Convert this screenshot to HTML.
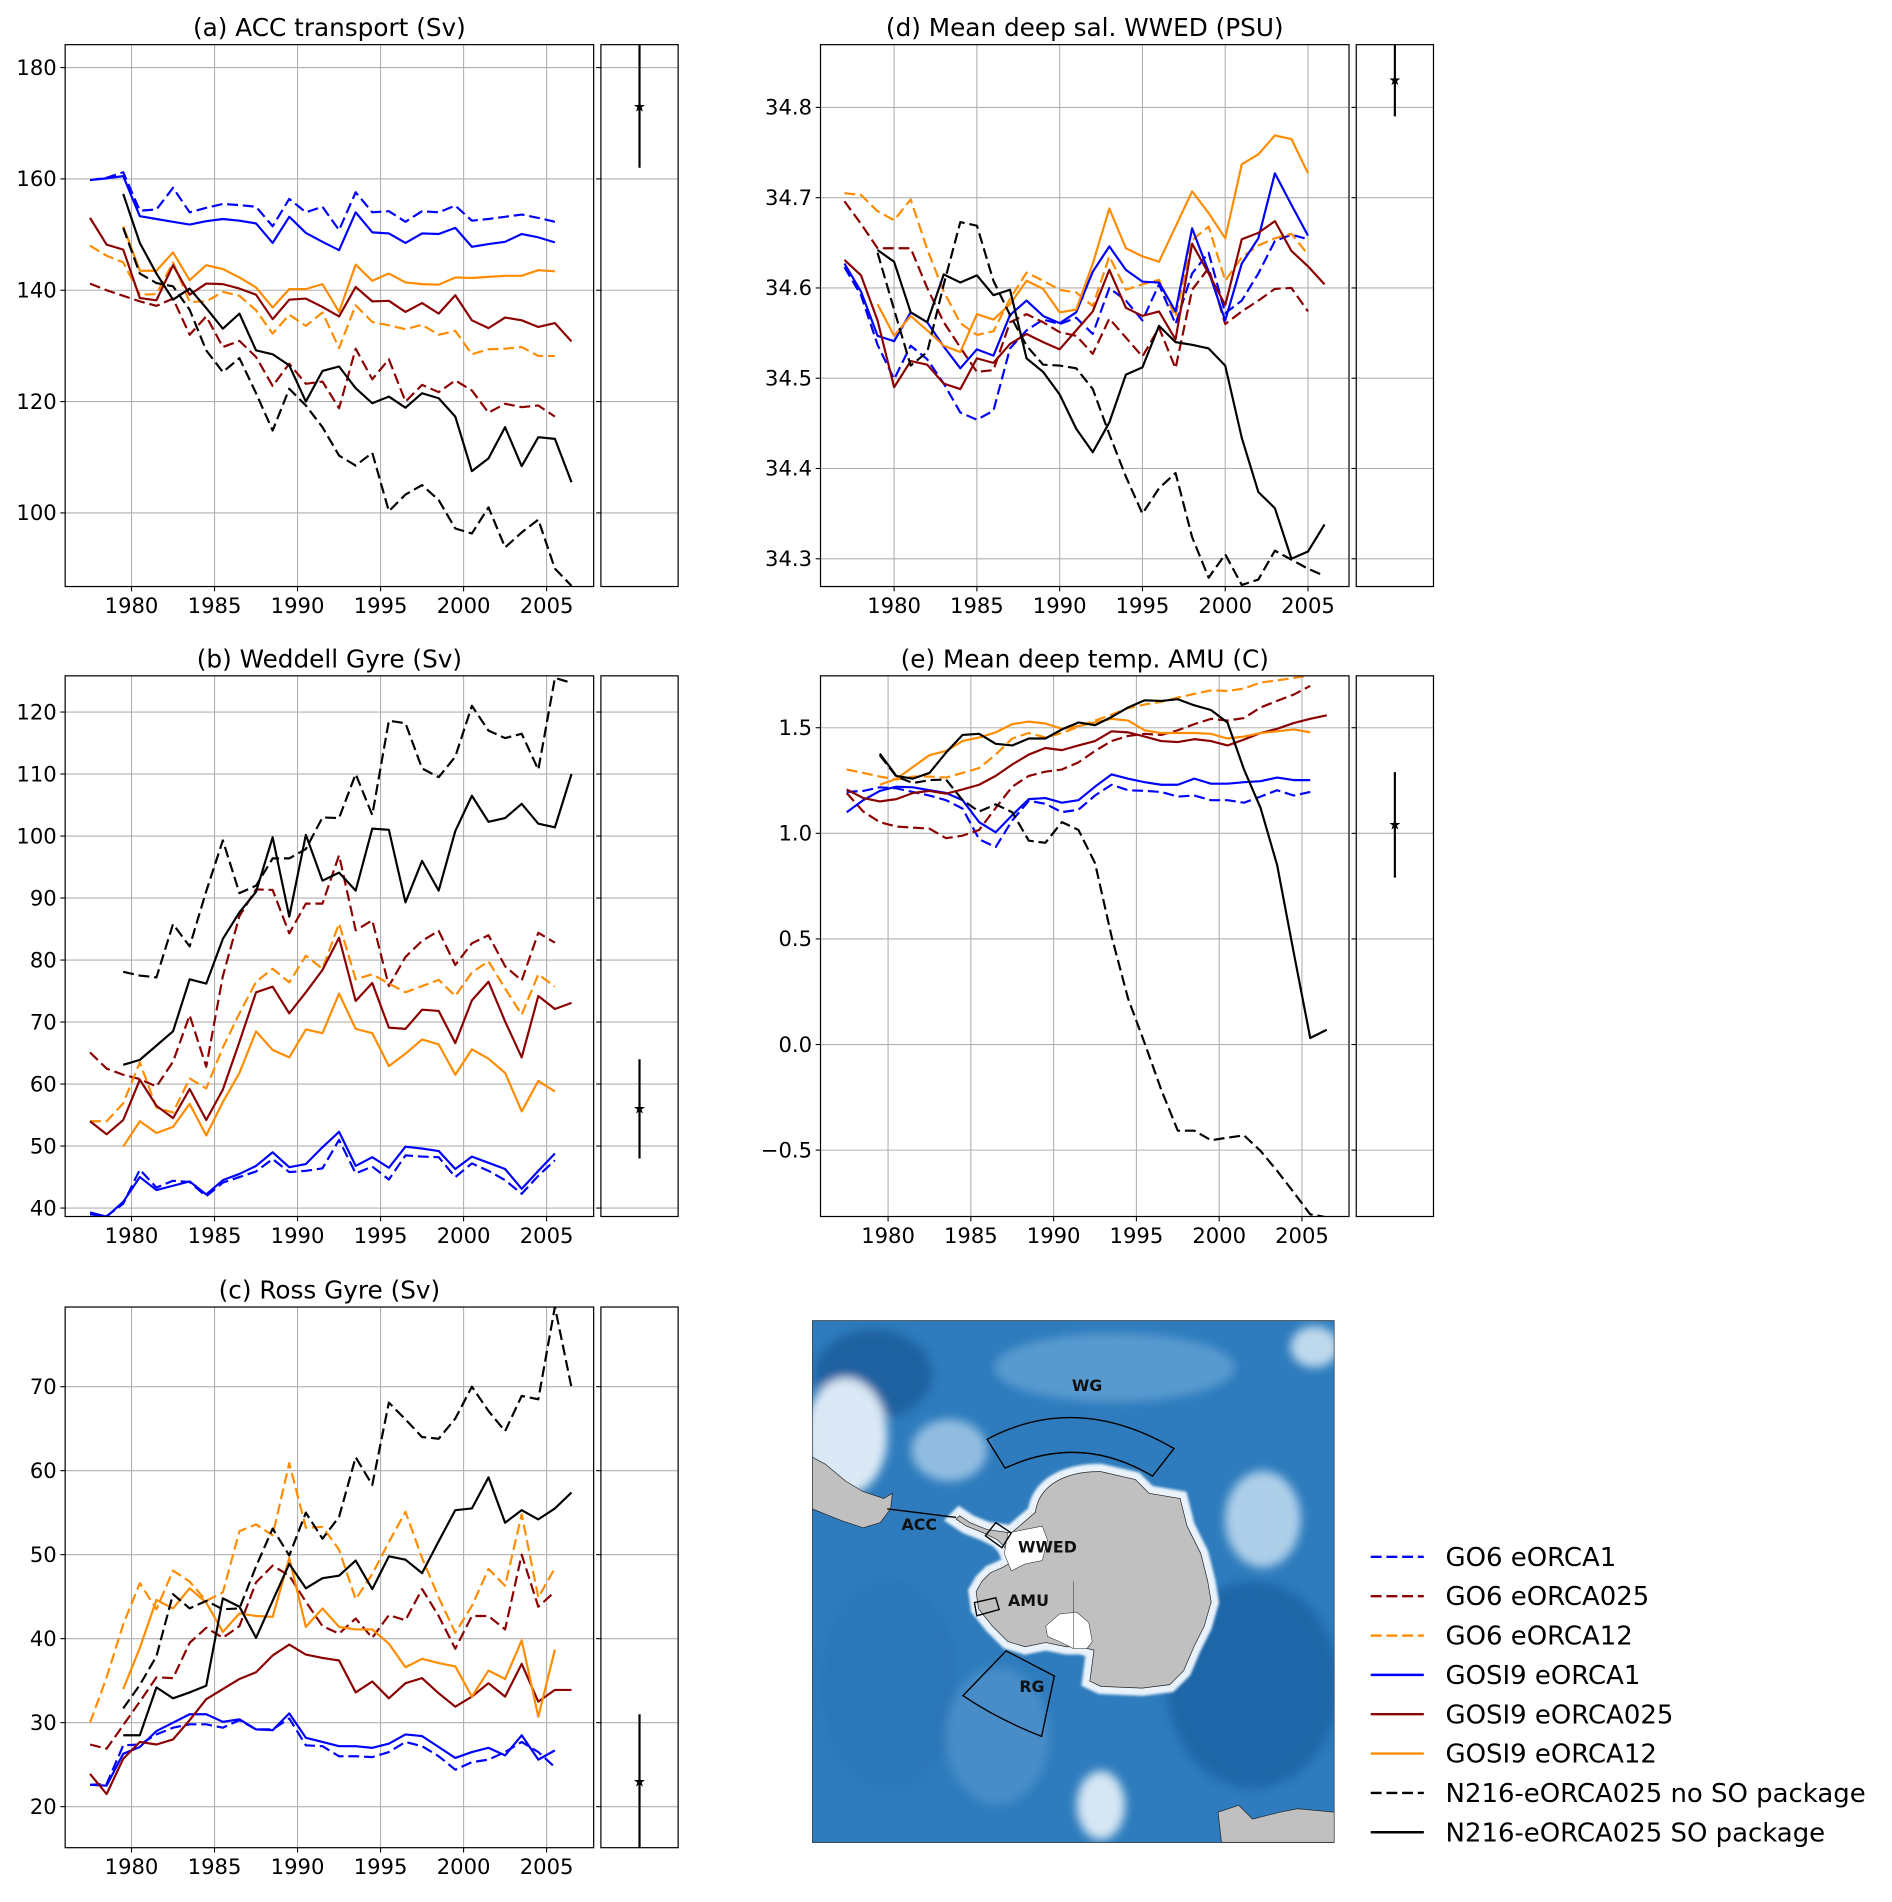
<!DOCTYPE html>
<html><head><meta charset="utf-8"><style>
html,body{margin:0;padding:0;background:#fff;}
svg{display:block;font-family:"DejaVu Sans","Liberation Sans",sans-serif;}
</style></head><body>
<svg id="fig" xmlns="http://www.w3.org/2000/svg" width="1892" height="1902" viewBox="0 0 1568 1576" preserveAspectRatio="none">
<defs>
<filter id="blur8" x="-20%" y="-20%" width="140%" height="140%"><feGaussianBlur stdDeviation="14"/></filter>
<filter id="blur3"><feGaussianBlur stdDeviation="4"/></filter>
</defs>
<g id="panels"></g>

<!-- Map -->
<svg x="673" y="1094" width="433" height="433" viewBox="22 43 1516 1516" preserveAspectRatio="none">
  <rect x="22" y="43" width="1516" height="1516" fill="#2e7cbd"/>
  <g filter="url(#blur8)" opacity="0.9">
    <ellipse cx="200" cy="200" rx="170" ry="130" fill="#1c5f9e"/>
    <ellipse cx="1300" cy="1100" rx="250" ry="300" fill="#1f65a6"/>
    <ellipse cx="250" cy="1100" rx="200" ry="300" fill="#2a76b8"/>
    <ellipse cx="900" cy="180" rx="350" ry="100" fill="#5d9ed2"/>
    <ellipse cx="1330" cy="620" rx="110" ry="140" fill="#bcd8ee"/>
    <ellipse cx="860" cy="1450" rx="70" ry="100" fill="#e8f2fa"/>
    <ellipse cx="1480" cy="120" rx="70" ry="60" fill="#cfe3f2"/>
    <ellipse cx="120" cy="380" rx="120" ry="170" fill="#eef5fb"/>
    <ellipse cx="420" cy="420" rx="110" ry="90" fill="#9cc4e4"/>
    <ellipse cx="560" cy="1250" rx="150" ry="200" fill="#4b8fca"/>
  </g>
  <path d="M670,600 C680,520 760,480 860,482 L960,505 L1000,545 L1090,560 L1110,640 L1150,720 L1170,800 L1180,860 L1160,930 L1130,990 L1100,1060 L1060,1100 L980,1110 L860,1105 L828,1090 L840,1000 L800,990 L760,990 L700,978 L640,990 L590,975 L545,930 L505,880 L498,830 L515,800 L540,775 L575,760 L600,745 L580,700 L560,680 L520,660 L470,640 L440,620 L450,610 L480,630 L530,650 L600,660 Z" fill="#eaf3fb" stroke="#eaf3fb" stroke-width="45" filter="url(#blur3)"/>
  <path d="M22,440 L60,460 L120,510 L170,540 L230,560 L255,545 L250,590 L220,630 L170,645 L110,625 L60,605 L22,590 Z" fill="#c0c0c0" stroke="#222" stroke-width="2"/>
  <path d="M1200,1470 L1260,1450 L1300,1490 L1380,1470 L1430,1460 L1538,1470 L1538,1558 L1210,1558 Z" fill="#c0c0c0" stroke="#222" stroke-width="2"/>
  <path d="M670,600 C680,520 760,480 860,482 L960,505 L1000,545 L1090,560 L1110,640 L1150,720 L1170,800 L1180,860 L1160,930 L1130,990 L1100,1060 L1060,1100 L980,1110 L860,1105 L828,1090 L840,1000 L800,990 L760,990 L700,978 L640,990 L590,975 L545,930 L505,880 L498,830 L515,800 L540,775 L575,760 L600,745 L580,700 L560,680 L520,660 L470,640 L440,620 L450,610 L480,630 L530,650 L600,660 Z" fill="#c0c0c0" stroke="#222" stroke-width="2"/>
  <path d="M590,660 L640,650 L690,640 L705,680 L690,740 L640,750 L600,770 L580,720 Z" fill="#ffffff" stroke="#222" stroke-width="1.5"/>
  <path d="M700,930 L740,895 L790,890 L825,920 L835,975 L820,995 L780,995 L740,975 L705,960 Z" fill="#ffffff" stroke="#222" stroke-width="1.5"/>
  <line x1="780" y1="800" x2="780" y2="995" stroke="#333" stroke-width="1.5"/>
  <path d="M530,388 Q790,250 1072,415 L1010,495 Q800,370 582,472 Z" fill="none" stroke="#000" stroke-width="4"/>
  <path d="M585,1002 L725,1075 L688,1250 Q560,1200 460,1132 Z" fill="none" stroke="#000" stroke-width="4"/>
  <path d="M525,668 L555,630 L600,660 L573,703 Z" fill="none" stroke="#000" stroke-width="4"/>
  <path d="M493,862 L555,848 L565,882 L500,900 Z" fill="none" stroke="#000" stroke-width="4"/>
  <line x1="240" y1="590" x2="440" y2="615" stroke="#000" stroke-width="4"/>
  <g font-weight="bold" font-size="46" fill="#111">
    <text x="820" y="248" text-anchor="middle">WG</text>
    <text x="333" y="652" text-anchor="middle">ACC</text>
    <text x="705" y="716" text-anchor="middle">WWED</text>
    <text x="650" y="872" text-anchor="middle">AMU</text>
    <text x="660" y="1122" text-anchor="middle">RG</text>
  </g>
  <rect x="22" y="43" width="1516" height="1516" fill="none" stroke="#333" stroke-width="4"/>
</svg>
<g id="legend"></g>
</svg>
<script>
// ---------- DATA ----------
const seriesNames = ["GO6 eORCA1","GO6 eORCA025","GO6 eORCA12","GOSI9 eORCA1","GOSI9 eORCA025","GOSI9 eORCA12","N216-eORCA025 no SO package","N216-eORCA025 SO package"];
const seriesColors = ["#0000ff","#8b0000","#ff8c00","#0000ff","#8b0000","#ff8c00","#000000","#000000"];
const seriesDashed = [true,true,true,false,false,false,true,false];
const seriesStartOffset = [0,0,0,0,0,2,2,2];
const xTickYears = [1980,1985,1990,1995,2000,2005];

// (a) ACC transport
const accStart = 1977.5;
const accTicks = [100,120,140,160,180];
const accGo6Orca1 = [159.8,160.2,161.2,154.3,154.5,158.4,154,154.8,155.5,155.3,155,151.5,156.4,154,155,150.8,157.6,154,154.2,152.3,154.2,154,155.2,152.5,152.8,153.2,153.6,153,152.3];
const accGo6Orca025 = [141.2,140.0,139.0,138.0,137.2,138.5,132.0,135.3,129.8,130.9,128.0,122.8,126.8,123.2,123.6,118.8,129.5,124.0,127.6,120.0,123.0,121.7,123.8,122.0,118.0,119.6,119.0,119.3,117.3];
const accGo6Orca12 = [148,146.2,145,139.2,139.3,145,137.9,138,139.7,139,136.4,132.2,135.6,133.6,136,129.6,137.3,134.3,133.7,133,133.8,132,132.7,128.5,129.4,129.5,129.8,128.2,128.2];
const accGosi9Orca1 = [159.8,160.1,160.5,153.3,152.8,152.3,151.8,152.4,152.8,152.5,152,148.5,153.2,150.3,148.7,147.2,154,150.4,150.2,148.5,150.2,150.1,151.2,147.8,148.3,148.7,150.1,149.5,148.6];
const accGosi9Orca025 = [153,148.2,147.3,138.6,138.2,144.5,139.2,141.2,141.1,140.3,139.2,134.8,138.3,138.5,137,135.3,140.6,138,138.1,136.1,137.7,135.8,139.1,134.6,133.2,135.1,134.6,133.4,134.1,130.8];
const accGosi9Orca12 = [151.5,143.5,143.5,146.8,141.8,144.5,143.8,142.3,140.5,136.9,140.2,140.2,141.1,136.1,144.6,141.7,143,141.4,141.1,141,142.3,142.2,142.4,142.6,142.6,143.6,143.4];
const accN216NoSO = [151.2,143,141.3,140.7,136.5,129.2,125.3,127.8,121.5,114.8,122.3,119.3,115.4,110.3,108.5,110.8,100.3,103.3,105,102.3,97.2,96.3,101,93.8,96.5,98.8,90,86.9];
const accN216SO = [157.3,148.5,143,138.3,140.3,136.8,133.1,135.8,129.2,128.5,126.5,120,125.5,126.3,122.4,119.7,120.9,118.9,121.5,120.6,117.3,107.5,109.8,115.4,108.4,113.6,113.3,105.5];
const accObs = [162,173,190];

// (d) WWED salinity
const salStart = 1977;
const salTicks = [34.3,34.4,34.5,34.6,34.7,34.8];
const salGo6Orca1 = [34.623,34.592,34.537,34.499,34.536,34.521,34.494,34.462,34.454,34.464,34.533,34.553,34.565,34.560,34.567,34.549,34.600,34.586,34.564,34.604,34.560,34.616,34.639,34.572,34.586,34.616,34.652,34.659,34.654];
const salGo6Orca025 = [34.696,34.671,34.644,34.644,34.644,34.600,34.562,34.534,34.507,34.509,34.562,34.571,34.562,34.551,34.547,34.527,34.566,34.545,34.524,34.556,34.511,34.598,34.622,34.560,34.574,34.586,34.599,34.600,34.574];
const salGo6Orca12 = [34.705,34.703,34.685,34.675,34.698,34.643,34.596,34.561,34.548,34.552,34.588,34.617,34.608,34.598,34.595,34.580,34.635,34.598,34.604,34.609,34.568,34.653,34.668,34.608,34.634,34.647,34.655,34.660,34.637];
const salGosi9Orca1 = [34.627,34.596,34.547,34.541,34.573,34.562,34.535,34.511,34.532,34.525,34.570,34.586,34.569,34.561,34.573,34.618,34.646,34.620,34.607,34.606,34.574,34.666,34.618,34.564,34.627,34.655,34.727,34.692,34.658];
const salGosi9Orca025 = [34.631,34.614,34.564,34.490,34.519,34.515,34.494,34.488,34.522,34.517,34.538,34.549,34.540,34.532,34.553,34.574,34.620,34.578,34.569,34.574,34.543,34.649,34.616,34.581,34.654,34.661,34.674,34.641,34.624,34.604];
const salGosi9Orca12 = [34.582,34.547,34.569,34.553,34.536,34.529,34.571,34.565,34.582,34.608,34.599,34.573,34.576,34.627,34.688,34.644,34.635,34.629,34.668,34.707,34.683,34.655,34.737,34.748,34.769,34.765,34.727];
const salN216NoSO = [34.639,34.576,34.514,34.529,34.604,34.673,34.669,34.608,34.570,34.536,34.515,34.514,34.511,34.488,34.438,34.391,34.350,34.378,34.395,34.324,34.279,34.305,34.271,34.277,34.309,34.299,34.289,34.281];
const salN216SO = [34.642,34.629,34.573,34.562,34.615,34.606,34.614,34.592,34.598,34.522,34.507,34.482,34.444,34.418,34.451,34.504,34.512,34.558,34.540,34.537,34.533,34.514,34.434,34.374,34.356,34.300,34.308,34.338];
const salObs = [34.79,34.83,34.9];

// (b) Weddell Gyre
const wgStart = 1977.5;
const wgTicks = [40,50,60,70,80,90,100,110,120];
const wgGo6Orca1 = [39.0,38.7,40.7,46.2,43.3,44.4,44.2,41.9,44.1,45.0,45.9,47.9,45.8,46.0,46.4,51.0,45.6,46.7,44.6,48.5,48.3,48.2,45.0,47.2,46.0,44.5,42.3,45.2,47.7];
const wgGo6Orca025 = [65.1,62.5,61.5,60.8,59.6,63.6,71.1,62.8,77.4,87.1,91.4,91.3,84.3,89.1,89.1,96.9,84.8,86.4,75.8,80.5,83.1,84.7,79.2,82.7,84.0,79.0,76.7,84.4,82.8];
const wgGo6Orca12 = [54.0,54.0,56.9,63.5,56.2,55.4,60.9,59.3,65.9,71.4,76.5,78.6,76.4,80.7,78.6,85.9,76.9,77.7,76.2,74.8,75.8,76.8,74.2,78.0,79.8,75.4,71.2,77.7,75.7];
const wgGosi9Orca1 = [39.3,38.6,41.0,45.0,42.9,43.6,44.3,42.2,44.5,45.5,46.8,49.0,46.6,47.1,49.8,52.3,46.8,48.2,46.5,49.9,49.6,49.2,46.3,48.3,47.3,46.3,43.1,46.0,48.8];
const wgGosi9Orca025 = [54.0,51.9,54.2,60.7,56.5,54.5,59.2,54.2,59.1,66.8,74.8,75.7,71.4,74.8,78.4,83.6,73.4,76.3,69.1,68.9,72.0,71.8,66.6,73.5,76.5,70.1,64.3,74.2,72.1,73.1];
const wgGosi9Orca12 = [49.9,54.0,52.1,53.1,56.8,51.7,57.1,61.8,68.5,65.5,64.3,68.8,68.2,74.6,68.9,68.2,62.9,64.9,67.2,66.4,61.5,65.6,64.1,61.8,55.6,60.5,58.8];
const wgN216NoSO = [78.1,77.5,77.2,85.8,82.2,91.1,99.3,90.8,92.0,96.4,96.4,97.9,103.0,102.9,110.0,103.4,118.6,118.2,110.9,109.5,112.8,121.0,117.0,115.8,116.5,110.7,125.5,124.7];
const wgN216SO = [63.1,63.9,66.2,68.5,76.9,76.2,83.4,87.7,91.0,99.8,87.0,100.2,92.8,94.1,91.2,101.2,101.0,89.3,96.0,91.2,100.8,106.5,102.3,102.9,105.2,102.0,101.4,110.0];
const wgObs = [48,56,64];

// (e) AMU temperature
const amuStart = 1977.5;
const amuTicks = [-0.5,0.0,0.5,1.0,1.5];
const amuGo6Orca1 = [1.196,1.201,1.218,1.213,1.196,1.179,1.157,1.117,0.972,0.935,1.061,1.154,1.140,1.100,1.112,1.179,1.230,1.204,1.201,1.196,1.174,1.179,1.157,1.157,1.145,1.174,1.204,1.179,1.196];
const amuGo6Orca025 = [1.191,1.103,1.053,1.032,1.027,1.022,0.977,0.989,1.016,1.120,1.221,1.272,1.292,1.302,1.336,1.390,1.437,1.461,1.471,1.466,1.488,1.517,1.542,1.534,1.546,1.596,1.627,1.657,1.698];
const amuGo6Orca12 = [1.302,1.286,1.269,1.255,1.269,1.269,1.264,1.286,1.309,1.373,1.449,1.475,1.454,1.475,1.505,1.534,1.562,1.593,1.610,1.623,1.643,1.660,1.677,1.674,1.686,1.714,1.724,1.736,1.748];
const amuGosi9Orca1 = [1.100,1.157,1.201,1.221,1.218,1.204,1.191,1.157,1.053,1.005,1.086,1.162,1.167,1.145,1.157,1.221,1.279,1.259,1.242,1.230,1.230,1.259,1.235,1.235,1.242,1.247,1.264,1.252,1.252];
const amuGosi9Orca025 = [1.208,1.167,1.151,1.162,1.191,1.201,1.188,1.208,1.230,1.272,1.326,1.373,1.404,1.394,1.416,1.437,1.483,1.478,1.458,1.437,1.432,1.446,1.437,1.416,1.444,1.475,1.495,1.522,1.542,1.559];
const amuGosi9Orca12 = [1.230,1.258,1.314,1.370,1.390,1.437,1.454,1.478,1.517,1.529,1.520,1.495,1.508,1.525,1.542,1.534,1.488,1.475,1.475,1.475,1.471,1.449,1.458,1.475,1.483,1.492,1.478];
const amuN216NoSO = [1.370,1.269,1.238,1.252,1.255,1.157,1.103,1.137,1.100,0.965,0.955,1.053,1.016,0.859,0.512,0.217,0.006,-0.214,-0.408,-0.408,-0.453,-0.441,-0.430,-0.504,-0.598,-0.700,-0.804,-0.818];
const amuN216SO = [1.377,1.272,1.259,1.286,1.382,1.466,1.471,1.424,1.416,1.449,1.449,1.492,1.525,1.512,1.551,1.596,1.630,1.627,1.635,1.606,1.584,1.525,1.302,1.120,0.850,0.436,0.031,0.070];
const amuObs = [0.79,1.04,1.29];

// (c) Ross Gyre
const rgStart = 1977.5;
const rgTicks = [20,30,40,50,60,70];
const rgGo6Orca1 = [22.6,22.7,27.3,27.4,28.6,29.4,29.8,29.8,29.4,30.3,29.2,29.2,30.5,27.3,27.2,26.0,26.0,25.9,26.5,27.7,27.2,26.0,24.4,25.3,25.6,26.5,27.7,26.5,24.7];
const rgGo6Orca025 = [27.4,26.9,29.7,32.5,35.4,35.3,39.5,41.3,40.1,41.5,46.7,48.7,47.5,44.4,41.5,40.6,42.4,40.1,42.8,42.2,45.9,42.7,38.8,42.7,42.7,41.1,50.0,43.8,45.6];
const rgGo6Orca12 = [30.0,35.4,41.7,46.6,43.5,48.1,46.8,44.5,45.5,52.8,53.6,52.3,60.9,53.2,53.3,50.6,44.7,47.7,51.5,55.1,49.6,44.9,40.7,43.9,48.3,46.3,54.8,44.9,48.4];
const rgGosi9Orca1 = [22.6,22.5,26.3,27.1,29.0,30.0,31.0,31.0,30.1,30.4,29.2,29.1,31.1,28.2,27.7,27.2,27.2,27.0,27.5,28.6,28.4,27.1,25.8,26.5,27.0,26.1,28.5,25.6,26.7];
const rgGosi9Orca025 = [23.9,21.5,25.7,27.7,27.4,28.0,30.3,32.8,34.0,35.2,36.0,38.0,39.3,38.1,37.7,37.4,33.6,34.9,32.9,34.7,35.3,33.5,31.9,33.1,34.7,33.1,37.0,32.5,33.9,33.9];
const rgGosi9Orca12 = [34.0,38.9,44.6,43.6,46.0,44.3,40.8,43.0,42.7,42.6,49.6,41.4,43.6,41.4,41.1,41.1,39.4,36.6,37.6,37.1,36.7,33.1,36.2,35.2,39.8,30.7,38.7];
const rgN216NoSO = [31.7,34.5,37.9,45.3,43.6,44.5,43.5,43.6,48.6,53.1,49.9,55.0,51.9,54.5,61.6,58.3,68.1,66.1,64.0,63.8,66.2,70.0,67.1,64.7,68.9,68.5,79.5,69.9];
const rgN216SO = [28.5,28.5,34.2,32.9,33.6,34.4,44.8,43.8,40.1,44.5,48.9,46.0,47.2,47.5,49.3,45.9,49.8,49.4,47.8,51.6,55.3,55.5,59.2,53.8,55.3,54.2,55.5,57.4];
const rgObs = [10,23,31];

// ---------- LAYOUT ----------
const NS = "http://www.w3.org/2000/svg";
const root = document.getElementById("panels");
function mk(tag, attrs, parent){
  const e = document.createElementNS(NS, tag);
  for (const k in attrs) e.setAttribute(k, attrs[k]);
  (parent || root).appendChild(e);
  return e;
}
function fmtTick(v, dec){
  const s = Math.abs(v).toFixed(dec);
  return (v < 0 ? "\u2212" : "") + s;
}

const panels = [
  {key:"acc", title:"(a) ACC transport (Sv)", box:[54,492,37,486], side:[498,562],
   xRef:[1980,109,2005,453], yRef:[180,56,100,425], ticks:accTicks, dec:0, start:accStart,
   data:[accGo6Orca1,accGo6Orca025,accGo6Orca12,accGosi9Orca1,accGosi9Orca025,accGosi9Orca12,accN216NoSO,accN216SO], obs:accObs},
  {key:"sal", title:"(d) Mean deep sal. WWED  (PSU)", box:[680,1118,37,486], side:[1124,1188],
   xRef:[1980,741,2005,1084], yRef:[34.8,89,34.3,463], ticks:salTicks, dec:1, start:salStart,
   data:[salGo6Orca1,salGo6Orca025,salGo6Orca12,salGosi9Orca1,salGosi9Orca025,salGosi9Orca12,salN216NoSO,salN216SO], obs:salObs},
  {key:"wg", title:"(b) Weddell Gyre (Sv)", box:[54,492,560,1008], side:[498,562],
   xRef:[1980,109,2005,453], yRef:[120,590,40,1001], ticks:wgTicks, dec:0, start:wgStart,
   data:[wgGo6Orca1,wgGo6Orca025,wgGo6Orca12,wgGosi9Orca1,wgGosi9Orca025,wgGosi9Orca12,wgN216NoSO,wgN216SO], obs:wgObs},
  {key:"amu", title:"(e) Mean deep temp. AMU (C)", box:[680,1118,560,1008], side:[1124,1188],
   xRef:[1980,736,2005,1079], yRef:[1.5,603,-0.5,953], ticks:amuTicks, dec:1, start:amuStart,
   data:[amuGo6Orca1,amuGo6Orca025,amuGo6Orca12,amuGosi9Orca1,amuGosi9Orca025,amuGosi9Orca12,amuN216NoSO,amuN216SO], obs:amuObs},
  {key:"rg", title:"(c) Ross Gyre (Sv)", box:[54,492,1083,1531], side:[498,562],
   xRef:[1980,109,2005,453], yRef:[70,1149,20,1497], ticks:rgTicks, dec:0, start:rgStart,
   data:[rgGo6Orca1,rgGo6Orca025,rgGo6Orca12,rgGosi9Orca1,rgGosi9Orca025,rgGosi9Orca12,rgN216NoSO,rgN216SO], obs:rgObs}
];

const defs = document.querySelector("defs");
panels.forEach(function(p){
  const [x0,x1,y0,y1] = p.box;
  const xS = (p.xRef[3]-p.xRef[1])/(p.xRef[2]-p.xRef[0]);
  const yS = (p.yRef[3]-p.yRef[1])/(p.yRef[2]-p.yRef[0]);
  const X = v => p.xRef[1] + (v - p.xRef[0]) * xS;
  const Y = v => p.yRef[1] + (v - p.yRef[0]) * yS;

  const g = mk("g", {});
  
  

  const cp = mk("clipPath", {id:"clip-"+p.key}, defs);
  mk("rect", {x:x0, y:y0, width:x1-x0, height:y1-y0}, cp);
  const cps = mk("clipPath", {id:"clips-"+p.key}, defs);
  mk("rect", {x:p.side[0], y:y0, width:p.side[1]-p.side[0], height:y1-y0}, cps);

  xTickYears.forEach(function(yr){
    const gl = mk("line", {x1:X(yr), x2:X(yr), y1:y0, y2:y1, stroke:"#b0b0b0", "stroke-width":0.9}, g);
    
    
    mk("line", {x1:X(yr), x2:X(yr), y1:y1, y2:y1+4, stroke:"#000", "stroke-width":0.9}, g);
    const t = mk("text", {x:X(yr), y:y1+22, "text-anchor":"middle", "font-size":17.5, fill:"#000"}, g);
    
    
    t.textContent = yr;
  });
  p.ticks.forEach(function(v){
    const yy = Y(v);
    const gl = mk("line", {x1:x0, x2:x1, y1:yy, y2:yy, stroke:"#b0b0b0", "stroke-width":0.9}, g);
    
    
    const gs = mk("line", {x1:p.side[0], x2:p.side[1], y1:yy, y2:yy, stroke:"#b0b0b0", "stroke-width":0.9}, g);
    
    
    mk("line", {x1:x0-4, x2:x0, y1:yy, y2:yy, stroke:"#000", "stroke-width":0.9}, g);
    mk("line", {x1:p.side[0]-4, x2:p.side[0], y1:yy, y2:yy, stroke:"#000", "stroke-width":0.9}, g);
    const t = mk("text", {x:x0-7, y:yy+6, "text-anchor":"end", "font-size":17.5, fill:"#000"}, g);
    
    
    t.textContent = fmtTick(v, p.dec);
  });

  const sg = mk("g", {"clip-path":"url(#clip-"+p.key+")"}, g);
  p.data.forEach(function(arr, si){
    const st = p.start + seriesStartOffset[si];
    const pts = arr.map((v,i) => X(st+i).toFixed(2)+","+Y(v).toFixed(2)).join(" ");
    const pl = mk("polyline", {points:pts, fill:"none", stroke:seriesColors[si], "stroke-width":1.8, "stroke-linejoin":"round"}, sg);
    if (seriesDashed[si]) pl.setAttribute("stroke-dasharray", "9,4");
    
    
  });

  const og = mk("g", {"clip-path":"url(#clips-"+p.key+")"}, g);
  const ox = (p.side[0]+p.side[1])/2;
  const eb = mk("line", {x1:ox, x2:ox, y1:Y(p.obs[0]), y2:Y(p.obs[2]), stroke:"#000", "stroke-width":1.8}, og);
  
  
  const sy = Y(p.obs[1]);
  const star = mk("text", {x:ox, y:sy+4, "text-anchor":"middle", "font-size":12, fill:"#000"}, og);
  
  
  star.textContent = "\u2605";

  const fr = mk("rect", {x:x0, y:y0, width:x1-x0, height:y1-y0, fill:"none", stroke:"#000", "stroke-width":1}, g);
  
  
  const fs = mk("rect", {x:p.side[0], y:y0, width:p.side[1]-p.side[0], height:y1-y0, fill:"none", stroke:"#000", "stroke-width":1}, g);
  
  

  const ti = mk("text", {x:(x0+x1)/2, y:y0-7, "text-anchor":"middle", "font-size":20.5, fill:"#000"}, g);
  
  
  ti.textContent = p.title;
});

const lg = document.getElementById("legend");


const legendRowY0 = 1290, legendRowStep = 32.6;
seriesNames.forEach(function(name, i){
  const yy = legendRowY0 + i*legendRowStep;
  const ln = mk("line", {x1:1136, x2:1180, y1:yy, y2:yy, stroke:seriesColors[i], "stroke-width":2}, lg);
  if (seriesDashed[i]) ln.setAttribute("stroke-dasharray", "9,4");
  
  
  const t = mk("text", {x:1198, y:yy+7.5, "font-size":21.5, fill:"#000"}, lg);
  
  
  t.textContent = name;
});
</script>
</body></html>
